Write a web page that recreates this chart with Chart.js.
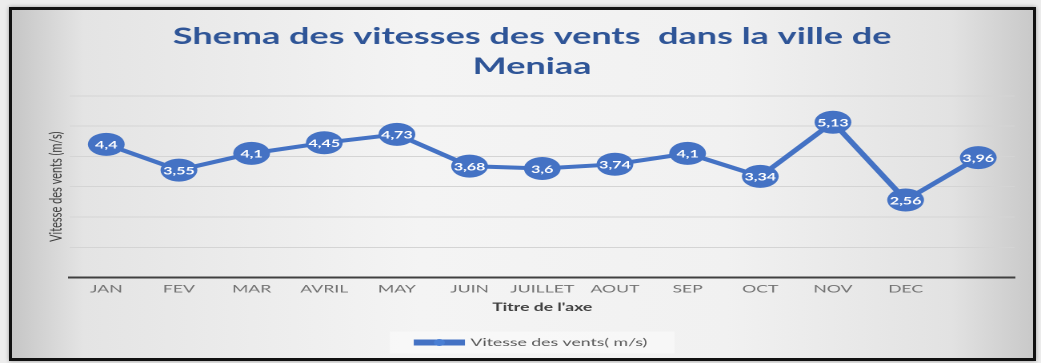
<!DOCTYPE html>
<html>
<head>
<meta charset="utf-8">
<script src="https://cdn.jsdelivr.net/npm/chart.js@4.4.1/dist/chart.umd.min.js"></script>
<style>
  html, body { margin: 0; padding: 0; background: #ececec; }
  #frame {
    position: absolute; left: 9px; top: 7px;
    width: 1021px; height: 348px;
    border: 3px solid #111;
    box-shadow: 0 0 4px rgba(0,0,0,0.35);
    background: linear-gradient(90deg, #c6c6c6 0%, #e4e4e4 7%, #f4f4f4 40%, #f1f1f1 70%, #e2e2e2 92%, #c9c9c9 100%);
  }
  /* le graphique est etire horizontalement */
  #vents { display: block; width: 1021px; height: 348px; }
</style>
</head>
<body>
<div id="frame"><canvas id="vents" width="638" height="348" style="width:1021px;height:348px"></canvas></div>
<script>
// mois (la derniere valeur n'a pas d'etiquette sur l'axe)
const mois = ["JAN", "FEV", "MAR", "AVRIL", "MAY", "JUIN", "JUILLET", "AOUT", "SEP", "OCT", "NOV", "DEC", ""];
// vitesse moyenne du vent en m/s
const vitesses = [4.4, 3.55, 4.1, 4.45, 4.73, 3.68, 3.6, 3.74, 4.1, 3.34, 5.13, 2.56, 3.96];
const titre = ["Shema des vitesses des vents  dans la ville de", "Meniaa"];
const bleu = "#4472C4";

// valeurs ecrites dans les marqueurs
const etiquettes = {
  id: "etiquettes",
  afterDatasetsDraw(chart) {
    const ctx = chart.ctx;
    const meta = chart.getDatasetMeta(0);
    ctx.save();
    ctx.font = "bold 10px Lato";
    ctx.fillStyle = "#fff";
    ctx.textAlign = "center";
    ctx.textBaseline = "middle";
    meta.data.forEach((pt, i) => {
      const txt = String(vitesses[i]).replace(".", ",");
      ctx.fillText(txt, pt.x, pt.y + 1);
    });
    ctx.restore();
  }
};

// cadre de la legende + petit rond sur le trait
const cadreLegende = {
  id: "cadreLegende",
  beforeDraw(chart) {
    const lg = chart.legend;
    if (!lg || !lg.legendHitBoxes.length) return;
    const hb = lg.legendHitBoxes[0];
    const cy = hb.top + hb.height / 2;
    const ctx = chart.ctx;
    ctx.save();
    ctx.fillStyle = "rgba(250,250,250,0.7)";
    ctx.fillRect(hb.left - 17, cy - 11, hb.width + 34, 22);
    ctx.restore();
  },
  afterDraw(chart) {
    const lg = chart.legend;
    if (!lg || !lg.legendHitBoxes.length) return;
    const hb = lg.legendHitBoxes[0];
    const ctx = chart.ctx;
    ctx.save();
    ctx.fillStyle = "#4a7fd4";
    ctx.beginPath();
    ctx.arc(hb.left + 14, hb.top + hb.height / 2, 3.5, 0, Math.PI * 2);
    ctx.fill();
    ctx.restore();
  }
};

new Chart(document.getElementById("vents"), {
  type: "line",
  data: {
    labels: mois,
    datasets: [{
      label: "Vitesse des vents( m/s)",
      data: vitesses,
      borderColor: bleu,
      backgroundColor: "#5b8bd6",
      borderWidth: 4,
      pointStyle: "circle",
      pointRadius: 11.5,
      pointBorderWidth: 0,
      pointBackgroundColor: bleu,
      tension: 0
    }]
  },
  options: {
    responsive: false,
    animation: false,
    devicePixelRatio: 2,
    layout: { padding: { left: 19, right: 7, top: 0, bottom: 0 } },
    plugins: {
      title: {
        display: true,
        text: titre,
        color: "#2F5597",
        font: { family: "Lato", size: 22.5, weight: "bold", lineHeight: 1.33 },
        padding: { top: 12, bottom: 14 }
      },
      legend: {
        position: "bottom",
        labels: {
          color: "#595959",
          font: { family: "Lato", size: 11 },
          boxWidth: 28,
          boxHeight: 2,
          padding: 10
        }
      },
      tooltip: { enabled: false }
    },
    scales: {
      x: {
        offset: true,
        grid: { display: false, drawTicks: false },
        border: { display: true, color: "#404040", width: 2 },
        ticks: {
          color: "#727272",
          font: { family: "Lato", size: 11 },
          padding: 5,
          maxRotation: 0,
          autoSkip: false
        },
        title: {
          display: true,
          text: "Titre de l'axe",
          color: "#404040",
          font: { family: "Lato", size: 11, weight: "bold" },
          padding: { top: 0, bottom: 13 }
        }
      },
      y: {
        min: 0,
        max: 6,
        ticks: { display: false, stepSize: 1 },
        grid: { color: "#d4d4d4", lineWidth: 1, drawTicks: false },
        border: { display: false },
        title: {
          display: true,
          text: "Vitesse des vents (m/s)",
          color: "#404040",
          font: { family: "Lato", size: 11 },
          padding: { top: 2, bottom: 2 }
        }
      }
    }
  },
  plugins: [etiquettes, cadreLegende]
});
</script>
</body>
</html>
